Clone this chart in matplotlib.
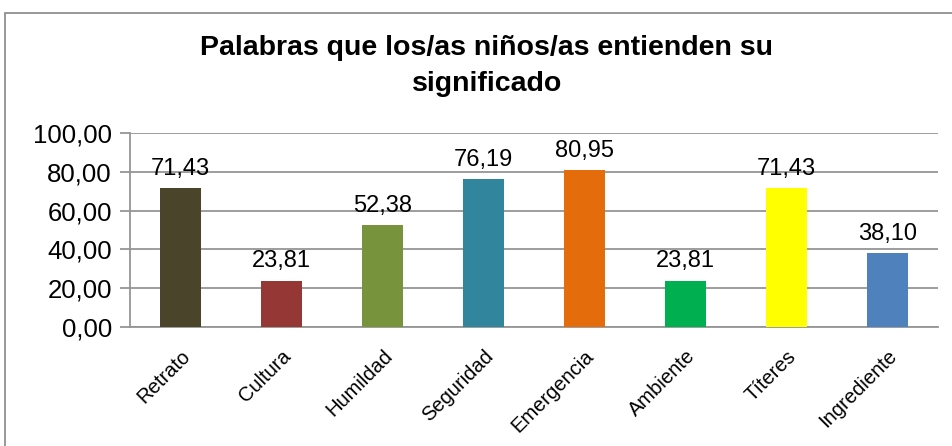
import matplotlib.pyplot as plt
from matplotlib.patches import Rectangle

plt.rcParams.update({
    "font.family": ["Liberation Sans", "DejaVu Sans"],
    "figure.dpi": 100,
    "figure.facecolor": "white",
})

# Data
categories = ["Retrato", "Cultura", "Humildad", "Seguridad",
              "Emergencia", "Ambiente", "Títeres", "Ingrediente"]
values = [71.43, 23.81, 52.38, 76.19, 80.95, 23.81, 71.43, 38.10]
bar_colors = ["#4A452A", "#953735", "#77933C", "#31859C",
              "#E46C0A", "#00B050", "#FFFF00", "#4F81BD"]
y_ticks = [0, 20, 40, 60, 80, 100]


def fmt_es(v):
    # Spanish decimal comma
    return f"{v:.2f}".replace(".", ",")


fig = plt.figure(figsize=(9.52, 4.46))
ax = fig.add_axes([130 / 952, 1 - 327 / 446, 808 / 952, 194 / 446])

# outer chart frame (right and bottom edges fall outside the image)
fig.add_artist(Rectangle((5 / 952, -0.05), 1.0, 1.05 - 13 / 446,
                         transform=fig.transFigure, fill=False,
                         edgecolor="#868686", lw=1.2))

x = range(len(categories))
ax.bar(x, values, width=0.41, color=bar_colors, zorder=3)

for xi, v in zip(x, values):
    ax.annotate(fmt_es(v), (xi, v), xytext=(0, 6), textcoords="offset points",
                ha="center", va="bottom", fontsize=17)

ax.set_xlim(-0.5, len(categories) - 0.5)
ax.set_ylim(0, 100)
ax.set_yticks(y_ticks)
ax.set_yticklabels([fmt_es(t) for t in y_ticks], fontsize=18.5)
ax.yaxis.grid(True, color="#959595", lw=1.3, zorder=0)
ax.set_axisbelow(True)

ax.set_xticks(list(x))
ax.set_xticklabels(categories, rotation=45, ha="right", rotation_mode="anchor",
                   fontsize=14.5)
ax.tick_params(axis="x", length=0, pad=14)
ax.tick_params(axis="y", length=7, color="#959595", width=1.3, pad=6)

for side in ["top", "right"]:
    ax.spines[side].set_visible(False)
ax.spines["left"].set_color("#959595")
ax.spines["left"].set_linewidth(1.3)
ax.spines["bottom"].set_color("#959595")
ax.spines["bottom"].set_linewidth(1.3)

fig.text(487 / 952, 1 - 66 / 446,
         "Palabras que los/as niños/as entienden su\nsignificado",
         ha="center", va="center", fontsize=20.5, fontweight="bold",
         linespacing=1.5)

fig.savefig("out.png", dpi=100)
